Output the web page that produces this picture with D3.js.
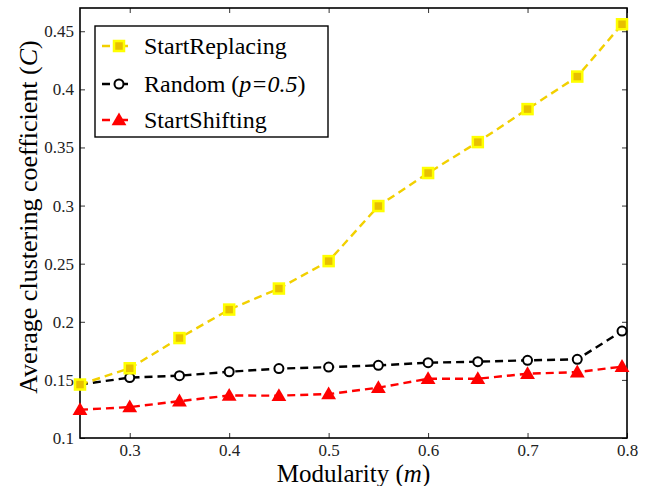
<!DOCTYPE html>
<html>
<head>
<meta charset="utf-8">
<script src="https://cdn.jsdelivr.net/npm/d3@7"></script>
<style>
  body { margin: 0; background: #fff; }
</style>
</head>
<body>
<div id="chart"></div>
<script>
var svgWidth = 656;
var svgHeight = 486;

var margin = { top: 8, right: 29, bottom: 48, left: 80 };
var width = svgWidth - margin.left - margin.right;
var height = svgHeight - margin.top - margin.bottom;

// data
var modularity = [0.25, 0.3, 0.35, 0.4, 0.45, 0.5, 0.55, 0.6, 0.65, 0.7, 0.75, 0.795];
var startReplacing = [0.146, 0.160, 0.186, 0.2105, 0.2286, 0.2522, 0.2996, 0.328, 0.3546, 0.383, 0.411, 0.456];
var randomHalf = [0.146, 0.152, 0.1536, 0.157, 0.1597, 0.161, 0.1625, 0.1648, 0.1657, 0.1668, 0.1677, 0.192];
var startShifting = [0.1243, 0.1266, 0.1317, 0.1366, 0.1364, 0.1378, 0.1433, 0.151, 0.151, 0.1553, 0.1567, 0.1614];
var xTicks = [0.3, 0.4, 0.5, 0.6, 0.7, 0.8];
var yTicks = [0.1, 0.15, 0.2, 0.25, 0.3, 0.35, 0.4, 0.45];

var series = [
  { name: "StartReplacing", values: startReplacing, line: "#f2d000", marker: "square" },
  { name: "Random", values: randomHalf, line: "#000000", marker: "circle" },
  { name: "StartShifting", values: startShifting, line: "#ff0000", marker: "triangle" }
];

var svg = d3.select("#chart")
  .append("svg")
  .attr("width", svgWidth)
  .attr("height", svgHeight)
  .attr("font-family", "Liberation Serif");

var chartGroup = svg.append("g")
  .attr("transform", `translate(${margin.left}, ${margin.top})`);

var xScale = d3.scaleLinear().domain([0.25, 0.8]).range([0, width]);
var yScale = d3.scaleLinear().domain([0.1, 0.47]).range([height, 0]);

// axes, ticks point inward like matlab
var tickFmt = d => d3.format("")(+d.toFixed(2));
var bottomAxis = d3.axisBottom(xScale).tickValues(xTicks).tickSizeInner(-5).tickSizeOuter(0).tickPadding(6).tickFormat(tickFmt);
var leftAxis = d3.axisLeft(yScale).tickValues(yTicks).tickSizeInner(-5).tickSizeOuter(0).tickPadding(6).tickFormat(tickFmt);
var topAxis = d3.axisTop(xScale).tickValues(xTicks).tickSizeInner(-5).tickSizeOuter(0).tickFormat("");
var rightAxis = d3.axisRight(yScale).tickValues(yTicks).tickSizeInner(-5).tickSizeOuter(0).tickFormat("");

var xAxis = chartGroup.append("g").attr("transform", `translate(0, ${height})`).call(bottomAxis);
var yAxis = chartGroup.append("g").call(leftAxis);
chartGroup.append("g").call(topAxis);
chartGroup.append("g").attr("transform", `translate(${width}, 0)`).call(rightAxis);

chartGroup.selectAll(".domain").remove();
chartGroup.selectAll(".tick line").attr("stroke", "#333").attr("stroke-width", 1);
chartGroup.selectAll(".tick text")
  .style("font-size", "17px")
  .attr("fill", "#222");

// box
chartGroup.append("rect")
  .attr("x", 0).attr("y", 0)
  .attr("width", width).attr("height", height)
  .attr("fill", "none")
  .attr("stroke", "#000")
  .attr("stroke-width", 1.6);

var lineGen = d3.line()
  .x((d, i) => xScale(modularity[i]))
  .y(d => yScale(d));

var triangle = d3.symbol().type(d3.symbolTriangle).size(95);

function drawMarker(g, type, cx, cy) {
  if (type === "square") {
    g.append("rect")
      .attr("x", cx - 5).attr("y", cy - 5)
      .attr("width", 10).attr("height", 10)
      .attr("fill", "#e8c000")
      .attr("stroke", "#ffff00")
      .attr("stroke-width", 2.5);
  } else if (type === "circle") {
    g.append("circle")
      .attr("cx", cx).attr("cy", cy).attr("r", 4.5)
      .attr("fill", "#fff")
      .attr("stroke", "#000")
      .attr("stroke-width", 2);
  } else {
    g.append("path")
      .attr("d", triangle)
      .attr("transform", `translate(${cx}, ${cy + 1})`)
      .attr("fill", "#ff0000");
  }
}

// draw shifting first, replacing last so yellow sits on top at start
[series[2], series[1], series[0]].forEach(function(s) {
  chartGroup.append("path")
    .datum(s.values)
    .attr("d", lineGen)
    .attr("fill", "none")
    .attr("stroke", s.line)
    .attr("stroke-width", 2.4)
    .attr("stroke-dasharray", "8,5");

  var mg = chartGroup.append("g");
  s.values.forEach(function(v, i) {
    drawMarker(mg, s.marker, xScale(modularity[i]), yScale(v));
  });
});

// legend
var legend = chartGroup.append("g").attr("transform", "translate(15, 18)");
legend.append("rect")
  .attr("x", 0).attr("y", 0)
  .attr("width", 233).attr("height", 111)
  .attr("fill", "#fff")
  .attr("stroke", "#000")
  .attr("stroke-width", 1.4);

var rowY = [20, 58, 94];
series.forEach(function(s, i) {
  var row = legend.append("g");
  row.append("line")
    .attr("x1", 7).attr("x2", 41)
    .attr("y1", rowY[i]).attr("y2", rowY[i])
    .attr("stroke", s.line)
    .attr("stroke-width", 2.4)
    .attr("stroke-dasharray", "8,10");
  drawMarker(row, s.marker, 24, rowY[i]);
  var t = row.append("text")
    .attr("x", 49)
    .attr("y", rowY[i] + 8)
    .style("font-size", "24px")
    .attr("fill", "#000");
  if (s.name === "Random") {
    t.append("tspan").text("Random (");
    t.append("tspan").style("font-style", "italic").text("p=0.5");
    t.append("tspan").text(")");
  } else {
    t.text(s.name);
  }
});

// axis labels
var xLabel = svg.append("text")
  .attr("x", margin.left + width / 2)
  .attr("y", svgHeight - 4)
  .attr("text-anchor", "middle")
  .style("font-size", "25px");
xLabel.append("tspan").text("Modularity (");
xLabel.append("tspan").style("font-style", "italic").text("m");
xLabel.append("tspan").text(")");

var yLabel = svg.append("text")
  .attr("transform", "translate(37, 217) rotate(-90)")
  .attr("text-anchor", "middle")
  .style("font-size", "26px");
yLabel.append("tspan").text("Average clustering coefficient (");
yLabel.append("tspan").style("font-style", "italic").text("C");
yLabel.append("tspan").text(")");

// axes put their own sans-serif on the groups, so set the family on every text
svg.selectAll("g").attr("font-family", null);
svg.selectAll("text").attr("font-family", "Liberation Serif").style("font-family", "Liberation Serif");
</script>
</body>
</html>
